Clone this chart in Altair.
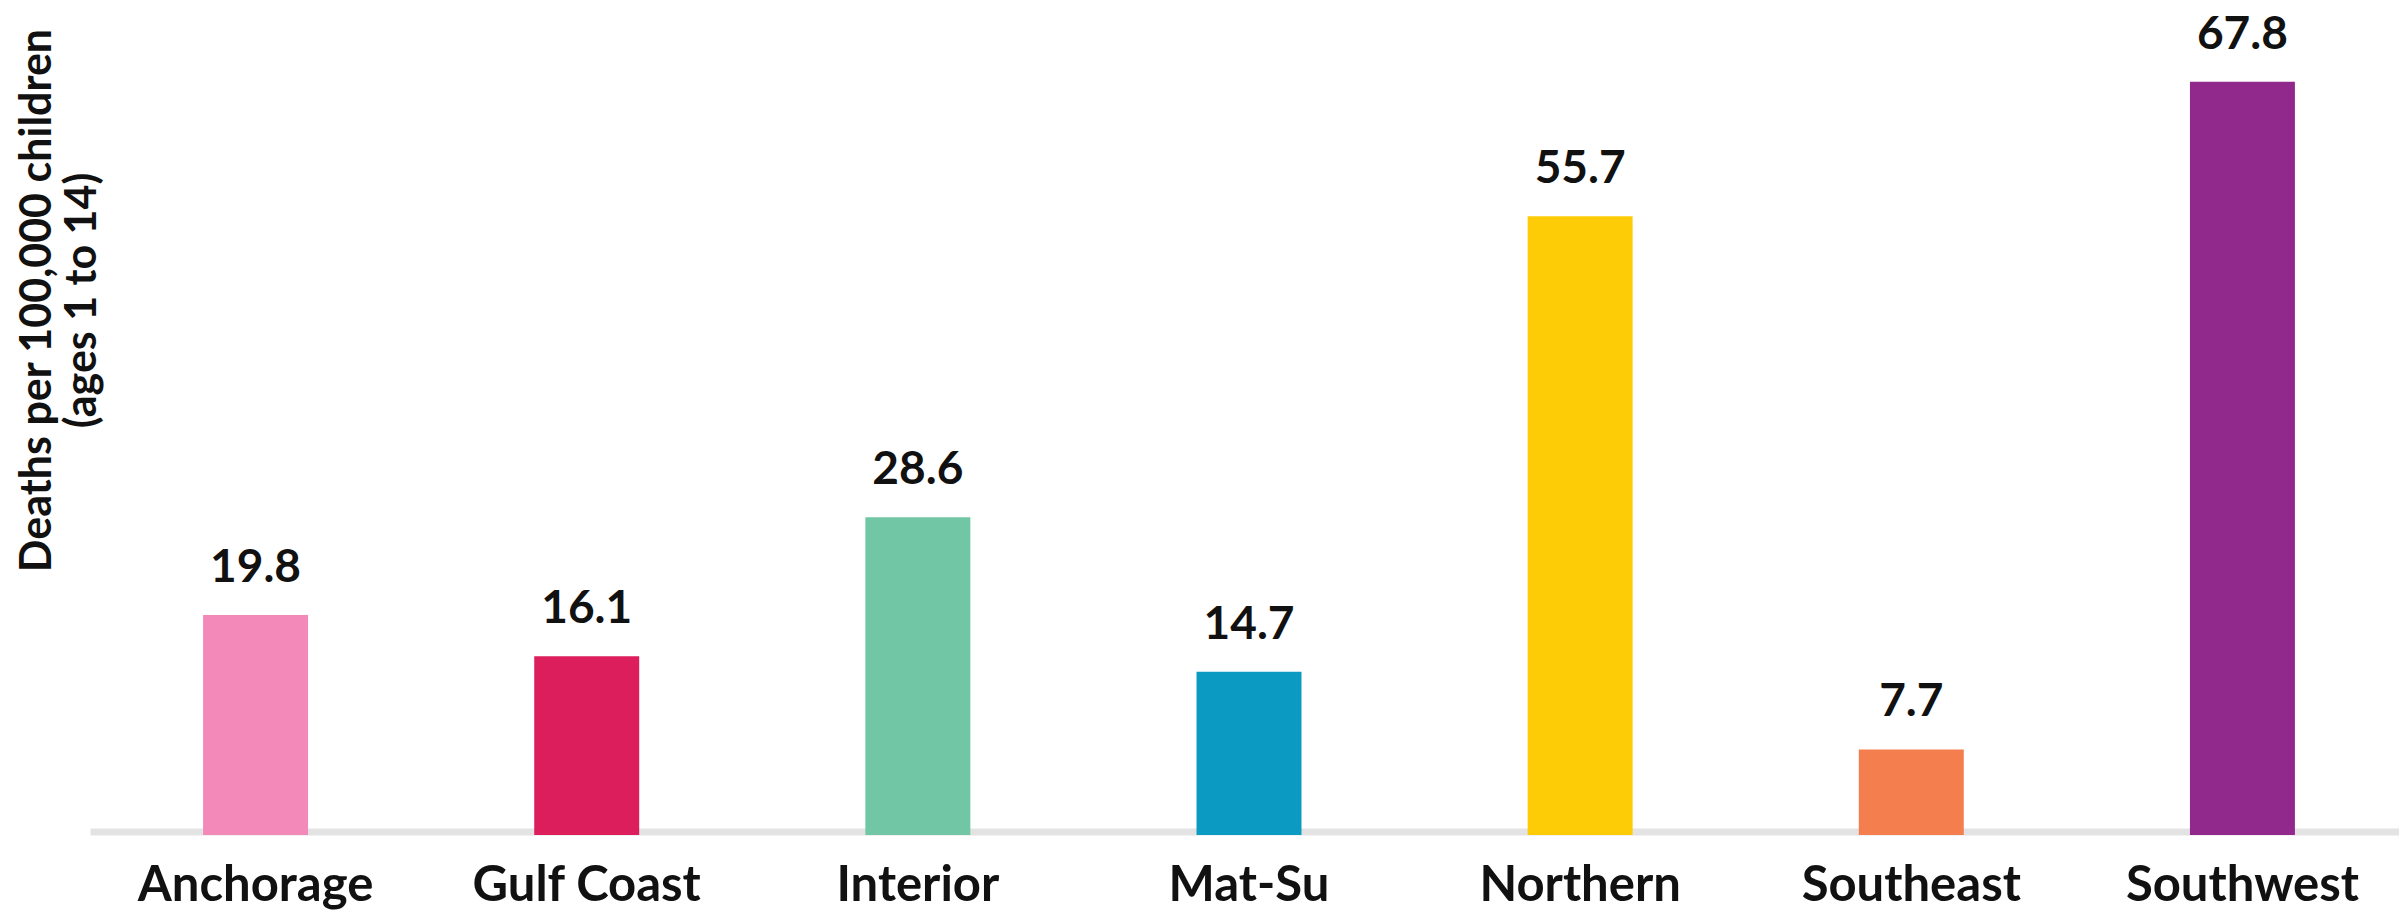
import altair as alt
import pandas as pd

regions = ["Anchorage", "Gulf Coast", "Interior", "Mat-Su", "Northern", "Southeast", "Southwest"]
rates = [19.8, 16.1, 28.6, 14.7, 55.7, 7.7, 67.8]
colors = ["#F289B9", "#DC1E5C", "#70C6A5", "#0B9BC2", "#FECB07", "#F47E4E", "#91288B"]
y_title = ["Deaths per 100,000 children", "(ages 1 to 14)"]

df = pd.DataFrame({"region": regions, "rate": rates})

FONT = "Lato"

x_enc = alt.X(
    "region:N",
    sort=regions,
    title=None,
    scale=alt.Scale(range=[0, 2318], paddingInner=0.683, paddingOuter=0.3415),
    axis=alt.Axis(
        labelAngle=0,
        labelFont=FONT,
        labelFontSize=49,
        labelFontWeight="bold",
        labelColor="#111111",
        labelBaseline="alphabetic",
        labelPadding=69,
        labelLimit=0,
        labelOverlap=False,
        ticks=False,
        tickSize=0,
        offset=-3.5,
        domainColor="#c8c8c8",
        domainOpacity=0.5,
        domainWidth=7,
        grid=False,
    ),
)

y_enc = alt.Y(
    "rate:Q",
    scale=alt.Scale(domain=[0, 74], nice=False),
    axis=alt.Axis(
        title=y_title,
        labels=False,
        ticks=False,
        domain=False,
        grid=False,
        titleFont=FONT,
        titleFontSize=43,
        titleFontWeight="bold",
        titleColor="#111111",
        titleAngle=270,
        titleAlign="center",
        titleBaseline="alphabetic",
        titleLineHeight=45,
        titleX=-40,
        titleY=287,
    ),
)

bars = alt.Chart(df).mark_bar().encode(
    x=x_enc,
    y=y_enc,
    color=alt.Color("region:N", scale=alt.Scale(domain=regions, range=colors), legend=None),
)

labels = alt.Chart(df).mark_text(
    font=FONT,
    fontSize=46,
    fontWeight="bold",
    color="#111111",
    baseline="alphabetic",
    align="center",
    dy=-33,
).encode(
    x=alt.X("region:N", sort=regions),
    y=alt.Y("rate:Q"),
    text=alt.Text("rate:Q", format=".1f"),
)

chart = (
    alt.layer(bars, labels)
    .properties(
        width=2309,
        height=822,
        autosize=alt.AutoSizeParams(type="none"),
        padding={"left": 82, "top": 5, "right": 0, "bottom": 76},
    )
    .configure_view(stroke=None)
)

chart.save("out.html", embed_options={"renderer": "svg", "actions": False})
